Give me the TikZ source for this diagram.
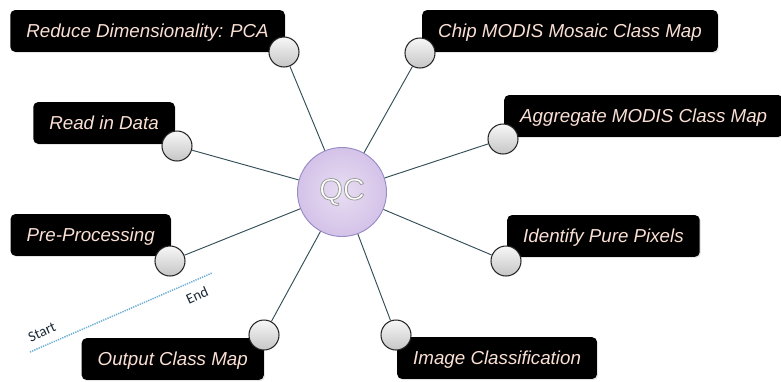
\documentclass[tikz,border=0pt]{standalone}
\usepackage{fontspec}
\setmainfont{Liberation Sans}
\newfontfamily\tagfont{Carlito}
\newfontfamily\hubfont[FakeBold=2.5]{Liberation Sans}
\usetikzlibrary{shadows}
\definecolor{linkcol}{RGB}{50,78,88}
\definecolor{boxtext}{RGB}{250,224,212}
\definecolor{qcfill}{RGB}{212,194,232}
\definecolor{qcrim}{RGB}{150,140,198}
\definecolor{tlblue}{RGB}{110,175,212}
\definecolor{tagcol}{RGB}{25,40,55}
% grey stroke round the white letters of the hub
\newcommand{\hubtext}[1]{{\hubfont\special{pdf:code 0.6 G}#1}}

\begin{document}
\begin{tikzpicture}[x=0.03cm,y=-0.03cm,
  stepbox/.style={fill=black, rounded corners=4pt, text=boxtext,
    font=\fontsize{16}{18}\selectfont\itshape, text height=11.5pt, text depth=0.5pt,
    minimum height=1.25cm, inner xsep=0.48cm,
    drop shadow={opacity=0.2, shadow xshift=1pt, shadow yshift=-1pt}},
  knob/.style={circle, draw=black!85, line width=0.9pt, top color=gray!6,
    bottom color=gray!45, minimum size=0.9cm, inner sep=0pt},
  hub/.style={circle, draw=qcrim, line width=0.8pt, inner color=qcfill!55,
    outer color=qcfill, minimum size=2.67cm, text=white,
    font=\fontsize{26}{28}\selectfont},
  link/.style={draw=linkcol, line width=0.8pt},
  tag/.style={text=tagcol, font=\tagfont\fontsize{12.5}{14}\selectfont, inner sep=0pt}]
  \useasboundingbox (0,0) rectangle (781,381);

  \node[hub] (qc) at (342,192) {\hubtext{QC}};

  % left hand steps
  \node[stepbox, anchor=south east] (pca) at (285,52) {Reduce Dimensionality: PCA};
  \node[stepbox, anchor=south east] (read) at (175,144) {Read in Data};
  \node[stepbox, anchor=south east] (pre) at (171,256) {Pre-Processing};
  \node[stepbox, anchor=north east] (out) at (264,338) {Output Class Map};
  % right hand steps
  \node[stepbox, anchor=south west] (chip) at (422,52) {Chip MODIS Mosaic Class Map};
  \node[stepbox, anchor=south west] (agg) at (504,137) {Aggregate MODIS Class Map};
  \node[stepbox, anchor=south west] (pure) at (507,257) {Identify Pure Pixels};
  \node[stepbox, anchor=north west] (cls) at (397,337) {Image Classification};

  % knobs on the box corners
  \node[knob] (pcaK) at (284,52) {};
  \node[knob] (readK) at (177,146) {};
  \node[knob] (preK) at (170,261) {};
  \node[knob] (outK) at (264,335) {};
  \node[knob] (chipK) at (420,53) {};
  \node[knob] (aggK) at (503,139) {};
  \node[knob] (pureK) at (506,261) {};
  \node[knob] (clsK) at (396,335) {};

  \draw[link] (qc) -- (pcaK);
  \draw[link] (qc) -- (readK);
  \draw[link] (qc) -- (preK);
  \draw[link] (qc) -- (outK);
  \draw[link] (qc) -- (chipK);
  \draw[link] (qc) -- (aggK);
  \draw[link] (qc) -- (pureK);
  \draw[link] (qc) -- (clsK);

  % time line
  \coordinate (tlS) at (30,352);
  \coordinate (tlE) at (212,273);
  \draw[tlblue, line width=1.3pt, dash pattern=on 1.1pt off 0.9pt] (tlS) -- (tlE);
  \node[tag, rotate=24] (startL) at (42,332) {Start};
  \node[tag, rotate=24] (endL) at (197,295) {End};
\end{tikzpicture}
\end{document}
